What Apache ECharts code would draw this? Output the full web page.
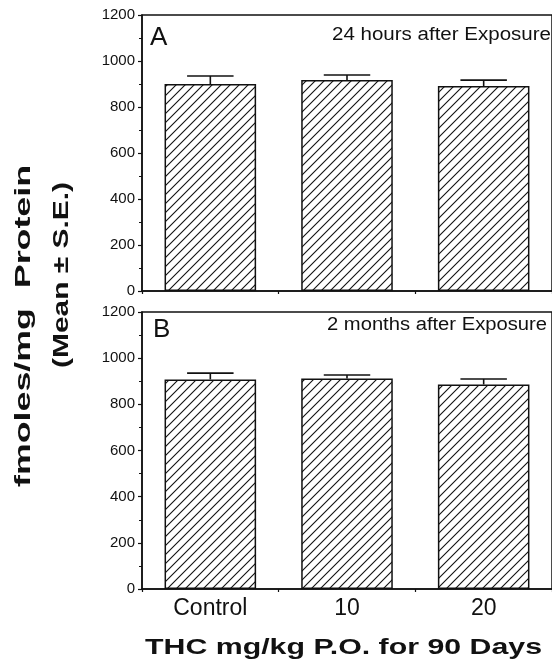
<!DOCTYPE html>
<html><head><meta charset="utf-8">
<script src="https://cdn.jsdelivr.net/npm/echarts@6/dist/echarts.min.js"></script>
<style>html,body{margin:0;padding:0;background:#fff}#c{width:552px;height:665px}</style>
</head><body><div id="c"></div>
<script>
const categories = ['Control', '10', '20'];
const meanA = [900, 917, 891];
const seA = [35, 22, 26];
const meanB = [908, 912, 886];
const seB = [27, 15, 24];
const yTicks = [0, 200, 400, 600, 800, 1000, 1200];
const panelLabels = ['A', 'B'];
const panelTitles = ['24 hours after Exposure', '2 months after Exposure'];
const xTitle = 'THC mg/kg P.O. for 90 Days';
const yTitle1 = 'fmoles/mg  Protein';
const yTitle2 = '(Mean \u00B1 S.E.)';

const FONT = '"Liberation Sans", Arial, Helvetica, sans-serif';
const INK = '#111';

// hatch pattern
const tile = document.createElement('canvas');
tile.width = 9; tile.height = 9;
const tc = tile.getContext('2d');
tc.fillStyle = '#fff'; tc.fillRect(0, 0, 9, 9);
tc.strokeStyle = INK; tc.lineWidth = 1.1;
tc.beginPath();
tc.moveTo(-1, 10); tc.lineTo(10, -1);
tc.moveTo(-2, 2); tc.lineTo(2, -2);
tc.moveTo(7, 11); tc.lineTo(11, 7);
tc.stroke();

const mc = document.createElement('canvas').getContext('2d');
function measure(text, font) { mc.font = font; return mc.measureText(text).width; }
function stretchedText(text, size, weight, cx, cy, target, rot) {
  const f = weight + ' ' + size + 'px ' + FONT;
  const w = measure(text, f);
  return {
    type: 'text', x: cx, y: cy, rotation: rot || 0, scaleX: target / w,
    style: { text: text, font: f, fill: INK, textAlign: 'center', textVerticalAlign: 'middle', align: 'center', verticalAlign: 'middle' }
  };
}

const grids = [
  { left: 142, top: 15, height: 276, right: -12 },
  { left: 142, top: 312, height: 277, right: -12 }
].map(g => Object.assign(g, { show: true, borderColor: INK, borderWidth: 1.5, backgroundColor: 'transparent' }));

function xAx(i, showLabel) {
  return {
    type: 'category', gridIndex: i, data: categories,
    axisLine: { lineStyle: { color: INK, width: 1.5 } },
    axisTick: { show: true, length: 3, lineStyle: { color: INK, width: 1.2 } },
    axisLabel: { show: showLabel, fontFamily: FONT, fontSize: 23, color: INK, margin: 8 }
  };
}
function yAx(i) {
  return {
    type: 'value', gridIndex: i, min: yTicks[0], max: yTicks[yTicks.length - 1], interval: yTicks[1] - yTicks[0],
    axisLine: { show: true, lineStyle: { color: INK, width: 1.5 } },
    axisTick: { show: true, length: 4, lineStyle: { color: INK, width: 1.2 } },
    minorTick: { show: true, splitNumber: 2, length: 3, lineStyle: { color: INK, width: 1 } },
    splitLine: { show: false },
    axisLabel: { fontFamily: FONT, fontSize: 15, color: INK, margin: 7, formatter: v => String(v) }
  };
}
function barSeries(i, vals) {
  return {
    type: 'bar', xAxisIndex: i, yAxisIndex: i, data: vals, barWidth: '67%',
    itemStyle: { color: { image: tile, repeat: 'repeat' }, borderColor: INK, borderWidth: 1.5 },
    z: 2
  };
}
function errSeries(i, means, ses) {
  return {
    type: 'custom', xAxisIndex: i, yAxisIndex: i, z: 5,
    data: means.map((m, k) => [k, m, ses[k]]),
    renderItem: function (params, api) {
      const x = api.value(0), m = api.value(1), s = api.value(2);
      const p0 = api.coord([x, m]), p1 = api.coord([x, m + s]);
      const half = api.size([1, 0])[0] * 0.17;
      const st = { stroke: INK, lineWidth: 1.6 };
      return { type: 'group', children: [
        { type: 'line', shape: { x1: p0[0], y1: p0[1], x2: p1[0], y2: p1[1] }, style: st },
        { type: 'line', shape: { x1: p1[0] - half, y1: p1[1], x2: p1[0] + half, y2: p1[1] }, style: st }
      ] };
    }
  };
}

const chart = echarts.init(document.getElementById('c'), null, { renderer: 'canvas' });
chart.setOption({
  animation: false,
  backgroundColor: '#fff',
  grid: grids,
  xAxis: [xAx(0, false), xAx(1, true)],
  yAxis: [yAx(0), yAx(1)],
  series: [barSeries(0, meanA), errSeries(0, meanA, seA), barSeries(1, meanB), errSeries(1, meanB, seB)],
  graphic: [
    { type: 'text', x: 150, y: 37.5, style: { text: panelLabels[0], font: 'normal 26px ' + FONT, fill: INK, textVerticalAlign: 'middle', verticalAlign: 'middle' } },
    { type: 'text', x: 153, y: 330, style: { text: panelLabels[1], font: 'normal 26px ' + FONT, fill: INK, textVerticalAlign: 'middle', verticalAlign: 'middle' } },
    stretchedText(panelTitles[0], 18, 'normal', 441.5, 35, 219),
    stretchedText(panelTitles[1], 18, 'normal', 437, 325.5, 220),
    stretchedText(xTitle, 22, 'bold', 343.5, 648, 397),
    stretchedText(yTitle1, 22, 'bold', 24, 326, 322, Math.PI / 2),
    stretchedText(yTitle2, 22, 'bold', 62, 275, 186, Math.PI / 2)
  ]
});
</script></body></html>
